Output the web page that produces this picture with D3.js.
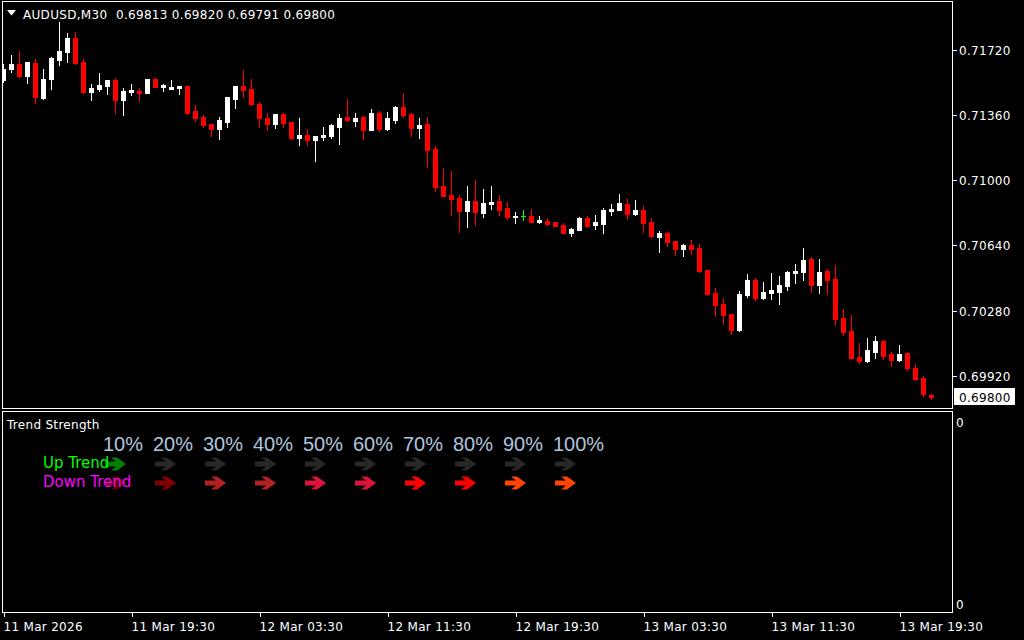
<!DOCTYPE html>
<html>
<head>
<meta charset="utf-8">
<script src="https://cdn.jsdelivr.net/npm/d3@7"></script>
<style>
  html, body { margin: 0; padding: 0; background: #000; }
  svg { display: block; }
</style>
</head>
<body>
<div id="chart"></div>
<script>
// ---------------- DATA ----------------
const symbol = "AUDUSD";
const timeframe = "M30";

const opens = [
0.71554, 0.71615, 0.71643, 0.71576, 0.71648, 0.71455, 0.71560, 0.71665, 0.71709, 0.71786,
0.71654, 0.71488, 0.71504, 0.71521, 0.71554, 0.71444, 0.71488, 0.71493, 0.71482, 0.71560,
0.71515, 0.71504, 0.71510, 0.71521, 0.71383, 0.71350, 0.71311, 0.71283, 0.71322, 0.71449,
0.71521, 0.71504, 0.71421, 0.71344, 0.71311, 0.71366, 0.71322, 0.71233, 0.71250, 0.71222,
0.71239, 0.71244, 0.71294, 0.71350, 0.71327, 0.71350, 0.71278, 0.71372, 0.71283, 0.71333,
0.71405, 0.71366, 0.71289, 0.71311, 0.71173, 0.70968, 0.70918, 0.70902, 0.70830, 0.70885,
0.70819, 0.70868, 0.70885, 0.70846, 0.70797, 0.70800, 0.70802, 0.70769, 0.70775, 0.70769,
0.70752, 0.70708, 0.70725, 0.70791, 0.70752, 0.70758, 0.70830, 0.70835, 0.70868, 0.70813,
0.70835, 0.70769, 0.70686, 0.70708, 0.70664, 0.70620, 0.70642, 0.70625, 0.70503, 0.70376,
0.70316, 0.70261, 0.70172, 0.70365, 0.70448, 0.70349, 0.70376, 0.70382, 0.70415, 0.70487,
0.70492, 0.70564, 0.70421, 0.70498, 0.70454, 0.70238, 0.70166, 0.70022, 0.70000, 0.70050,
0.70111, 0.70039, 0.70006, 0.70044, 0.69961, 0.69906, 0.69813
];

const highs = [
0.71643, 0.71692, 0.71714, 0.71654, 0.71670, 0.71615, 0.71681, 0.71875, 0.71814, 0.71820,
0.71670, 0.71532, 0.71593, 0.71556, 0.71565, 0.71510, 0.71532, 0.71510, 0.71562, 0.71565,
0.71532, 0.71554, 0.71521, 0.71521, 0.71416, 0.71361, 0.71311, 0.71350, 0.71460, 0.71521,
0.71609, 0.71560, 0.71432, 0.71372, 0.71366, 0.71372, 0.71322, 0.71344, 0.71283, 0.71244,
0.71294, 0.71311, 0.71366, 0.71449, 0.71372, 0.71355, 0.71394, 0.71383, 0.71377, 0.71410,
0.71482, 0.71372, 0.71344, 0.71350, 0.71189, 0.71067, 0.71051, 0.70918, 0.70968, 0.71001,
0.70951, 0.70968, 0.70918, 0.70880, 0.70824, 0.70835, 0.70841, 0.70802, 0.70791, 0.70769,
0.70763, 0.70736, 0.70797, 0.70802, 0.70808, 0.70846, 0.70868, 0.70924, 0.70896, 0.70891,
0.70857, 0.70791, 0.70719, 0.70714, 0.70664, 0.70647, 0.70669, 0.70647, 0.70503, 0.70404,
0.70349, 0.70261, 0.70387, 0.70481, 0.70459, 0.70437, 0.70487, 0.70470, 0.70498, 0.70537,
0.70625, 0.70575, 0.70564, 0.70509, 0.70531, 0.70288, 0.70255, 0.70100, 0.70127, 0.70138,
0.70116, 0.70050, 0.70089, 0.70044, 0.69984, 0.69917, 0.69820
];

const lows = [
0.71543, 0.71598, 0.71571, 0.71538, 0.71427, 0.71449, 0.71504, 0.71637, 0.71654, 0.71643,
0.71485, 0.71444, 0.71493, 0.71477, 0.71372, 0.71361, 0.71471, 0.71438, 0.71480, 0.71513,
0.71493, 0.71504, 0.71477, 0.71366, 0.71327, 0.71294, 0.71244, 0.71228, 0.71294, 0.71399,
0.71460, 0.71416, 0.71294, 0.71278, 0.71289, 0.71294, 0.71228, 0.71195, 0.71195, 0.71106,
0.71222, 0.71233, 0.71200, 0.71327, 0.71300, 0.71228, 0.71278, 0.71272, 0.71278, 0.71316,
0.71350, 0.71244, 0.71233, 0.71073, 0.70940, 0.70911, 0.70808, 0.70714, 0.70741, 0.70752,
0.70797, 0.70841, 0.70808, 0.70786, 0.70763, 0.70780, 0.70767, 0.70763, 0.70752, 0.70747,
0.70706, 0.70692, 0.70725, 0.70741, 0.70730, 0.70708, 0.70808, 0.70835, 0.70786, 0.70808,
0.70714, 0.70686, 0.70603, 0.70636, 0.70586, 0.70581, 0.70592, 0.70492, 0.70365, 0.70249,
0.70205, 0.70150, 0.70166, 0.70354, 0.70338, 0.70343, 0.70343, 0.70316, 0.70393, 0.70432,
0.70448, 0.70382, 0.70376, 0.70371, 0.70199, 0.70144, 0.70014, 0.69989, 0.69995, 0.70017,
0.70011, 0.69973, 0.70000, 0.69950, 0.69895, 0.69807, 0.69791
];

const closes = [
0.71615, 0.71643, 0.71576, 0.71654, 0.71460, 0.71560, 0.71676, 0.71714, 0.71786, 0.71648,
0.71488, 0.71510, 0.71527, 0.71554, 0.71444, 0.71493, 0.71499, 0.71482, 0.71560, 0.71515,
0.71527, 0.71515, 0.71521, 0.71372, 0.71344, 0.71305, 0.71283, 0.71333, 0.71460, 0.71521,
0.71499, 0.71421, 0.71344, 0.71311, 0.71366, 0.71316, 0.71233, 0.71250, 0.71222, 0.71244,
0.71250, 0.71305, 0.71344, 0.71333, 0.71344, 0.71278, 0.71372, 0.71283, 0.71344, 0.71405,
0.71361, 0.71289, 0.71305, 0.71167, 0.70962, 0.70913, 0.70896, 0.70830, 0.70885, 0.70824,
0.70874, 0.70880, 0.70835, 0.70797, 0.70802, 0.70800, 0.70769, 0.70780, 0.70758, 0.70747,
0.70708, 0.70730, 0.70791, 0.70747, 0.70769, 0.70835, 0.70841, 0.70874, 0.70813, 0.70835,
0.70763, 0.70692, 0.70708, 0.70658, 0.70620, 0.70642, 0.70620, 0.70498, 0.70371, 0.70310,
0.70255, 0.70172, 0.70371, 0.70448, 0.70349, 0.70382, 0.70393, 0.70421, 0.70492, 0.70498,
0.70559, 0.70421, 0.70492, 0.70448, 0.70232, 0.70161, 0.70017, 0.70000, 0.70061, 0.70111,
0.70028, 0.70006, 0.70039, 0.69961, 0.69901, 0.69818, 0.69800
];

const priceTicks = [0.71720, 0.71360, 0.71000, 0.70640, 0.70280, 0.69920];
const timeTickBars = [0, 16, 32, 48, 64, 80, 96, 112];
const timeTickLabels = ["11 Mar 2026", "11 Mar 19:30", "12 Mar 03:30", "12 Mar 11:30",
                        "12 Mar 19:30", "13 Mar 03:30", "13 Mar 11:30", "13 Mar 19:30"];

const subTitle = "Trend Strength";
const subAxisLabels = ["0", "0"];
const strengthLevels = ["10%", "20%", "30%", "40%", "50%", "60%", "70%", "80%", "90%", "100%"];
const upTrendColors = ["#008000", "#282828", "#282828", "#282828", "#282828",
                       "#282828", "#282828", "#282828", "#282828", "#282828"];
const downTrendColors = ["#5e0000", "#800000", "#B22222", "#B22222", "#DC143C",
                         "#DC143C", "#FF0000", "#FF0000", "#FF4500", "#FF4500"];
const rowLabels = ["Up Trend", "Down Trend"];

// ---------------- CHART ----------------
const W = 1024, H = 640;
const FONT = "'DejaVu Sans', Verdana, sans-serif";

const svg = d3.select("#chart").append("svg")
  .attr("width", W).attr("height", H)
  .style("background", "#000");

const frameL = 2.5, frameR = 952.5;
const mainTop = 1.5, mainBot = 408.5;
const subTop = 411.5, subBot = 612.5;

const candles = opens.map((o, i) => ({ i, o, h: highs[i], l: lows[i], c: closes[i] }));

const x = d3.scaleLinear().domain([0, candles.length - 1]).range([3.5, 3.5 + 8 * (candles.length - 1)]);
const y = d3.scaleLinear().domain([0.697357, 0.719853]).range([409, 2]);

svg.append("defs").append("clipPath").attr("id", "mainClip")
  .append("rect").attr("x", 3).attr("y", 2).attr("width", frameR - 3).attr("height", mainBot - 2);

const plot = svg.append("g").attr("clip-path", "url(#mainClip)");

function candleColor(d) {
  if (d.o === d.c) return "#00FF00";
  return d.c > d.o ? "#FFFFFF" : "#FF0000";
}

// wicks
plot.selectAll("line.wick").data(candles).join("line")
  .attr("class", "wick")
  .attr("x1", d => x(d.i)).attr("x2", d => x(d.i))
  .attr("y1", d => Math.round(y(d.h)))
  .attr("y2", d => Math.round(y(d.l)) + 1)
  .attr("stroke", candleColor).attr("stroke-width", 1)
  .attr("shape-rendering", "crispEdges");

// bodies
plot.selectAll("rect.body").data(candles).join("rect")
  .attr("class", "body")
  .attr("x", d => x(d.i) - 2.5)
  .attr("width", 5)
  .attr("y", d => Math.round(y(Math.max(d.o, d.c))))
  .attr("height", d => Math.max(1, Math.round(y(Math.min(d.o, d.c))) - Math.round(y(Math.max(d.o, d.c))) + 1))
  .attr("fill", candleColor)
  .attr("shape-rendering", "crispEdges");

// frames
const frames = svg.append("g").attr("fill", "none").attr("stroke", "#fff")
  .attr("stroke-width", 1).attr("shape-rendering", "crispEdges");
frames.append("rect").attr("x", frameL).attr("y", mainTop)
  .attr("width", frameR - frameL).attr("height", mainBot - mainTop);
frames.append("rect").attr("x", frameL).attr("y", subTop)
  .attr("width", frameR - frameL).attr("height", subBot - subTop);

// price axis
const yAxis = d3.axisRight(y).tickValues(priceTicks).tickSize(4).tickPadding(2.5)
  .tickFormat(d3.format(".5f"));
const ya = svg.append("g").attr("transform", `translate(${frameR},0)`).call(yAxis);
ya.select(".domain").remove();
ya.selectAll("line").attr("stroke", "#fff").attr("shape-rendering", "crispEdges");
ya.selectAll("text").attr("fill", "#fff").attr("font-family", FONT).attr("font-size", 12)
  .attr("letter-spacing", "0.3px").attr("dy", null).attr("y", 4.5);

// current price box
const last = candles[candles.length - 1];
const fmt5 = d3.format(".5f");
const lastY = y(last.c);
svg.append("rect").attr("x", 954).attr("y", Math.round(lastY) - 9).attr("width", 61).attr("height", 17)
  .attr("fill", "#fff").attr("shape-rendering", "crispEdges");
svg.append("text").attr("x", 959).attr("y", lastY + 4.5)
  .attr("fill", "#000").attr("font-family", FONT).attr("font-size", 12).attr("letter-spacing", "0.3px")
  .text(fmt5(last.c));

// time axis
const xAxis = d3.axisBottom(x).tickValues(timeTickBars).tickSize(4)
  .tickFormat((d, i) => timeTickLabels[i]);
const xa = svg.append("g").attr("transform", `translate(0,${subBot})`).call(xAxis);
xa.select(".domain").remove();
xa.selectAll("line").attr("stroke", "#fff").attr("shape-rendering", "crispEdges");
xa.selectAll("text").attr("fill", "#fff").attr("font-family", FONT).attr("font-size", 12)
  .attr("letter-spacing", "0.3px").attr("text-anchor", "start")
  .attr("dy", null).attr("y", 18.5).attr("x", -0.5);

// header
svg.append("path").attr("d", "M7,10 L16,10 L11.5,15.5 Z").attr("fill", "#fff");
svg.append("text").attr("x", 23).attr("y", 18.5)
  .attr("fill", "#fff").attr("font-family", FONT).attr("font-size", 12).attr("letter-spacing", "0.3px")
  .text(`${symbol},${timeframe}`);
svg.append("text").attr("x", 116).attr("y", 18.5)
  .attr("fill", "#fff").attr("font-family", FONT).attr("font-size", 12).attr("letter-spacing", "0.3px")
  .text([last.o, last.h, last.l, last.c].map(fmt5).join(" "));

// sub window
svg.append("text").attr("x", 7).attr("y", 429)
  .attr("fill", "#fff").attr("font-family", FONT).attr("font-size", 12).attr("letter-spacing", "0.3px")
  .text(subTitle);

const subY = d3.scalePoint().domain([0, 1]).range([427, 609]);
svg.selectAll("text.subax").data(subAxisLabels).join("text")
  .attr("class", "subax")
  .attr("x", 956).attr("y", (d, i) => subY(i))
  .attr("fill", "#fff").attr("font-family", FONT).attr("font-size", 12)
  .text(d => d);

const col = d3.scalePoint().domain(d3.range(strengthLevels.length)).range([103, 553]);
const rowY = d3.scalePoint().domain([0, 1]).range([464, 483]);

svg.selectAll("text.lvl").data(strengthLevels).join("text")
  .attr("class", "lvl")
  .attr("x", (d, i) => col(i)).attr("y", 451)
  .attr("fill", "#B0C4DE").attr("font-family", "'Liberation Sans', Arial, sans-serif")
  .attr("font-size", 20)
  .text(d => d);

const arrowPts = [[0,-2.5],[11,-2.5],[6,-6.5],[12,-6.5],[21,0],[12,6.5],[6,6.5],[11,2.5],[0,2.5]];
const arrowPath = "M" + arrowPts.map(p => p.join(",")).join("L") + "Z";

[upTrendColors, downTrendColors].forEach((colors, r) => {
  svg.append("g").selectAll("path").data(colors).join("path")
    .attr("d", arrowPath)
    .attr("transform", (d, i) => `translate(${col(i) + 2},${rowY(r)})`)
    .attr("fill", d => d);
});

const rowColors = ["#00FF00", "#FF00FF"];
svg.selectAll("text.row").data(rowLabels).join("text")
  .attr("class", "row")
  .attr("x", 43).attr("y", (d, i) => rowY(i) + 3.5)
  .attr("fill", (d, i) => rowColors[i])
  .attr("font-family", FONT).attr("font-size", 15)
  .text(d => d);
</script>
</body>
</html>
